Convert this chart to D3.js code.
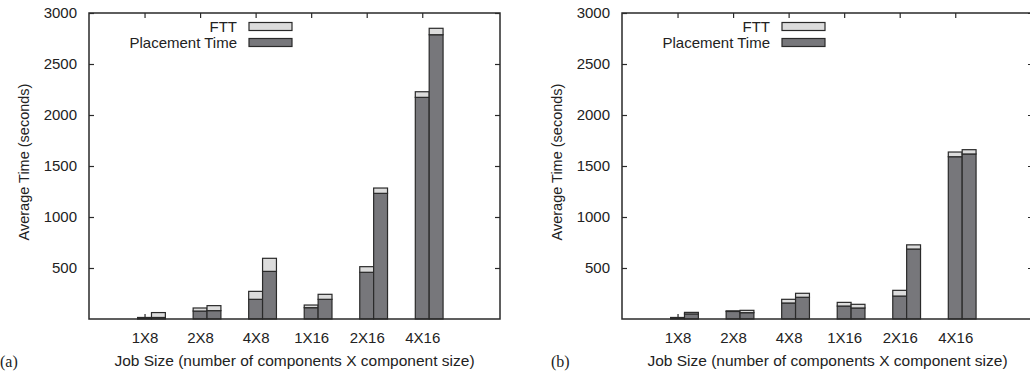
<!DOCTYPE html>
<html>
<head>
<meta charset="utf-8">
<script src="https://cdn.jsdelivr.net/npm/d3@7/dist/d3.min.js"></script>
<style>
  html, body { margin: 0; padding: 0; background: #fff; }
  svg { display: block; }
  text { font-family: "Liberation Sans", Arial, Helvetica, sans-serif; fill: #222; }
</style>
</head>
<body>
<svg id="chart" width="1030" height="374"></svg>
<script>
// Job sizes on the x axis
const categories = ["1X8", "2X8", "4X8", "1X16", "2X16", "4X16"];
const yTicks = [500, 1000, 1500, 2000, 2500, 3000];

// Panel (a): two bars per job size, each a stack of placement time + FTT
const placementA1 = [10, 78, 193, 111, 458, 2173];
const fttA1       = [5, 30, 78, 26, 55, 55];
const placementA2 = [15, 82, 467, 193, 1232, 2787];
const fttA2       = [48, 49, 128, 49, 52, 63];

// Panel (b)
const placementB1 = [10, 74, 157, 127, 225, 1591];
const fttB1       = [5, 6, 36, 36, 56, 46];
const placementB2 = [50, 62, 213, 108, 686, 1618];
const fttB2       = [15, 23, 39, 36, 41, 42];

const seriesNames = ["FTT", "Placement Time"];
const colors = { ftt: "#dcdcdc", placement: "#77777b", edge: "#2a2a2a" };

const svg = d3.select("#chart");

function panel(opts) {
  const { x0, x1, y0, y1, bars, tag } = opts;
  const g = svg.append("g");
  const x = d3.scaleLinear().domain([0, 7.4]).range([x0, x1]);
  const y = d3.scaleLinear().domain([0, 3000]).range([y1, y0]);
  const barW = 0.25;
  const tickLen = 5;

  // x axis (ticks inward, mirrored on top); drawn first so bars cover the bottom ticks
  const xAx = d3.axisBottom(x).tickValues(d3.range(1, categories.length + 1))
    .tickFormat(i => categories[i - 1]).tickSizeInner(-tickLen).tickSizeOuter(0).tickPadding(13);
  const xa = g.append("g").attr("transform", `translate(0,${y1})`).call(xAx);

  // bars: each bar sits at category index + offset
  const offsets = [-barW / 2, barW / 2];
  bars.forEach((b, k) => {
    const rows = categories.map((c, i) => ({
      c, i: i + 1, placement: b.placement[i], ftt: b.ftt[i]
    }));
    const grp = g.append("g");
    grp.selectAll("rect.p").data(rows).join("rect")
      .attr("x", d => x(d.i + offsets[k]))
      .attr("width", d => x(d.i + offsets[k] + barW) - x(d.i + offsets[k]))
      .attr("y", d => y(d.placement))
      .attr("height", d => y(0) - y(d.placement))
      .attr("fill", colors.placement)
      .attr("stroke", colors.edge).attr("stroke-width", 1.2);
    grp.selectAll("rect.f").data(rows).join("rect")
      .attr("x", d => x(d.i + offsets[k]))
      .attr("width", d => x(d.i + offsets[k] + barW) - x(d.i + offsets[k]))
      .attr("y", d => y(d.placement + d.ftt))
      .attr("height", d => y(d.placement) - y(d.placement + d.ftt))
      .attr("fill", colors.ftt)
      .attr("stroke", colors.edge).attr("stroke-width", 1.2);
  });

  // frame
  g.append("rect")
    .attr("x", x0).attr("y", y0)
    .attr("width", x1 - x0).attr("height", y1 - y0)
    .attr("fill", "none").attr("stroke", "#2a2a2a").attr("stroke-width", 1.5);

  // y axis (ticks inward, mirrored on the right)
  const yAx = d3.axisLeft(y).tickValues(yTicks).tickFormat(d3.format("d"))
    .tickSizeInner(-tickLen).tickSizeOuter(0).tickPadding(7 + tickLen);
  const ya = g.append("g").attr("transform", `translate(${x0},0)`).call(yAx);
  const yRight = d3.axisRight(y).tickValues(yTicks).tickSizeInner(-tickLen).tickSizeOuter(0).tickFormat("");
  const yr = g.append("g").attr("transform", `translate(${x1},0)`).call(yRight);

  const xTop = d3.axisTop(x).tickValues(d3.range(1, categories.length + 1))
    .tickSizeInner(-tickLen).tickSizeOuter(0).tickFormat("");
  const xt = g.append("g").attr("transform", `translate(0,${y0})`).call(xTop);

  [ya, yr, xa, xt].forEach(a => {
    a.select(".domain").remove();
    a.selectAll(".tick line").attr("stroke", "#2a2a2a").attr("stroke-width", 1.2);
    a.selectAll("text").attr("font-size", 15).attr("fill", "#222")
      .attr("font-family", "Liberation Sans, Arial, sans-serif");
  });

  // axis titles
  g.append("text")
    .attr("transform", `translate(${x0 - 65},${(y0 + y1) / 2 - 4}) rotate(-90)`)
    .attr("text-anchor", "middle").attr("dy", "0.35em")
    .attr("font-size", 14.5)
    .text("Average Time (seconds)");
  g.append("text")
    .attr("x", (x0 + x1) / 2).attr("y", 366)
    .attr("text-anchor", "middle").attr("font-size", 15.5)
    .text("Job Size (number of components X component size)");

  // legend
  const lx = x0 + 148;
  const leg = g.append("g");
  seriesNames.forEach((name, k) => {
    const cy = 26.5 + k * 16;
    leg.append("text").attr("x", lx).attr("y", cy).attr("dy", "0.35em")
      .attr("text-anchor", "end").attr("font-size", 15).text(name);
    leg.append("rect").attr("x", lx + 12).attr("y", cy - 4)
      .attr("width", 43).attr("height", 8)
      .attr("fill", k === 0 ? colors.ftt : colors.placement)
      .attr("stroke", colors.edge).attr("stroke-width", 1.2);
  });

  // panel tag
  svg.append("text").attr("x", tag.x).attr("y", 367)
    .style("font-family", "'Liberation Serif', 'Times New Roman', serif")
    .attr("font-size", 16).text(tag.t);
}

panel({
  x0: 89, x1: 500, y0: 13, y1: 319,
  bars: [{ placement: placementA1, ftt: fttA1 }, { placement: placementA2, ftt: fttA2 }],
  tag: { x: 0, t: "(a)" }
});
panel({
  x0: 622, x1: 1033, y0: 13, y1: 319,
  bars: [{ placement: placementB1, ftt: fttB1 }, { placement: placementB2, ftt: fttB2 }],
  tag: { x: 551, t: "(b)" }
});
</script>
</body>
</html>
